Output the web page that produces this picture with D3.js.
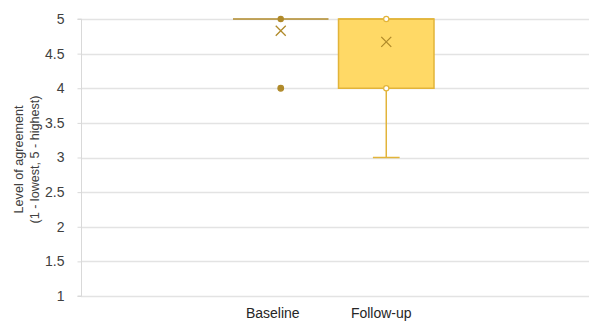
<!DOCTYPE html>
<html><head><meta charset="utf-8">
<script src="https://cdn.jsdelivr.net/npm/d3@7"></script>
<style>body{margin:0;background:#fff}svg{display:block;font-family:"Liberation Sans",Arial,sans-serif}</style>
</head><body>
<script>
const categories = ["Baseline", "Follow-up"];
const minVals = [5, 3];
const q1Vals = [5, 4];
const medianVals = [5, 5];
const q3Vals = [5, 5];
const maxVals = [5, 5];
const meanVals = [4.83, 4.67];
const innerPoints = [[5], [5, 4]];
const outliers = [[4], []];
const yTicks = [1, 1.5, 2, 2.5, 3, 3.5, 4, 4.5, 5];

(function () {
const W = 589, H = 321;
const svg = d3.select("body").append("svg").attr("width", W).attr("height", H);
const pLeft = 81, pRight = 589, pTop = 19, pBottom = 296;
const y = d3.scaleLinear().domain([1, 5]).range([pBottom, pTop]);
const x = d3.scaleBand().domain(categories).range([233, 434]).paddingInner(0.095);

svg.append("g").selectAll("line").data(yTicks).join("line")
  .attr("x1", pLeft).attr("x2", pRight)
  .attr("y1", d => Math.round(y(d)) + 0.5).attr("y2", d => Math.round(y(d)) + 0.5)
  .attr("stroke", "#e3e3e3").attr("stroke-width", 1.3);

const yAxis = d3.axisLeft(y).tickValues(yTicks).tickSize(4).tickPadding(13).tickFormat(d3.format("~g"));
const ga = svg.append("g").attr("transform", `translate(${pLeft + 0.5},0)`).call(yAxis);
ga.select(".domain").attr("stroke", "#d9d9d9").attr("d", `M-4,${y(1)}H0V${y(5)}H-4`);
ga.selectAll(".tick line").attr("stroke", "#d9d9d9");
ga.selectAll(".tick text").attr("fill", "#404040").style("font-size", "14px").style("font-family", "Liberation Sans, Arial, sans-serif");

const t = svg.append("text").attr("transform", `translate(22.5,${(pTop + pBottom) / 2 + 2}) rotate(-90)`)
  .attr("text-anchor", "middle").attr("fill", "#404040").style("font-size", "12.6px");
t.append("tspan").attr("x", 0).attr("dy", 0).text("Level of agreement");
t.append("tspan").attr("x", 0).attr("dy", 16.5).text("(1 - lowest, 5 - highest)");

const strokes = ["#b08a2a", "#e2b43a"];
const fills = ["#ffd966", "#ffd966"];
const ptFill = ["#b08a2a", "#ffffff"];

categories.forEach((c, i) => {
  const x0 = x(c), bw = x.bandwidth(), cx = x0 + bw / 2;
  const g = svg.append("g");
  if (minVals[i] < q1Vals[i]) {
    g.append("line").attr("x1", cx).attr("x2", cx).attr("y1", y(minVals[i])).attr("y2", y(q1Vals[i])).attr("stroke", strokes[i]).attr("stroke-width", 1.5);
    g.append("line").attr("x1", cx - bw * 0.14).attr("x2", cx + bw * 0.14).attr("y1", y(minVals[i])).attr("y2", y(minVals[i])).attr("stroke", strokes[i]).attr("stroke-width", 1.5);
  }
  g.append("rect").attr("x", x0).attr("y", y(q3Vals[i])).attr("width", bw)
    .attr("height", Math.max(0, y(q1Vals[i]) - y(q3Vals[i])))
    .attr("fill", fills[i]).attr("stroke", strokes[i]).attr("stroke-width", 1.5);
  g.append("line").attr("x1", x0).attr("x2", x0 + bw).attr("y1", y(medianVals[i])).attr("y2", y(medianVals[i])).attr("stroke", strokes[i]).attr("stroke-width", 1.5);
  g.selectAll("circle.in").data(innerPoints[i]).join("circle").attr("class", "in")
    .attr("cx", cx).attr("cy", d => y(d)).attr("r", 2.6)
    .attr("fill", ptFill[i]).attr("stroke", strokes[i]).attr("stroke-width", 1.2);
  g.selectAll("circle.out").data(outliers[i]).join("circle").attr("class", "out")
    .attr("cx", cx).attr("cy", d => y(d)).attr("r", 2.8)
    .attr("fill", ptFill[i]).attr("stroke", strokes[i]).attr("stroke-width", 1.2);
  const my = y(meanVals[i]), s = 5;
  g.append("path").attr("d", `M${cx - s},${my - s}L${cx + s},${my + s}M${cx - s},${my + s}L${cx + s},${my - s}`)
    .attr("stroke", "#b08a2a").attr("stroke-width", 1.3).attr("fill", "none");
  svg.append("text").attr("x", cx - (i === 0 ? 8 : 5)).attr("y", 318).attr("text-anchor", "middle")
    .attr("fill", "#262626").style("font-size", "14px").text(c);
});
})();
</script>
</body></html>
